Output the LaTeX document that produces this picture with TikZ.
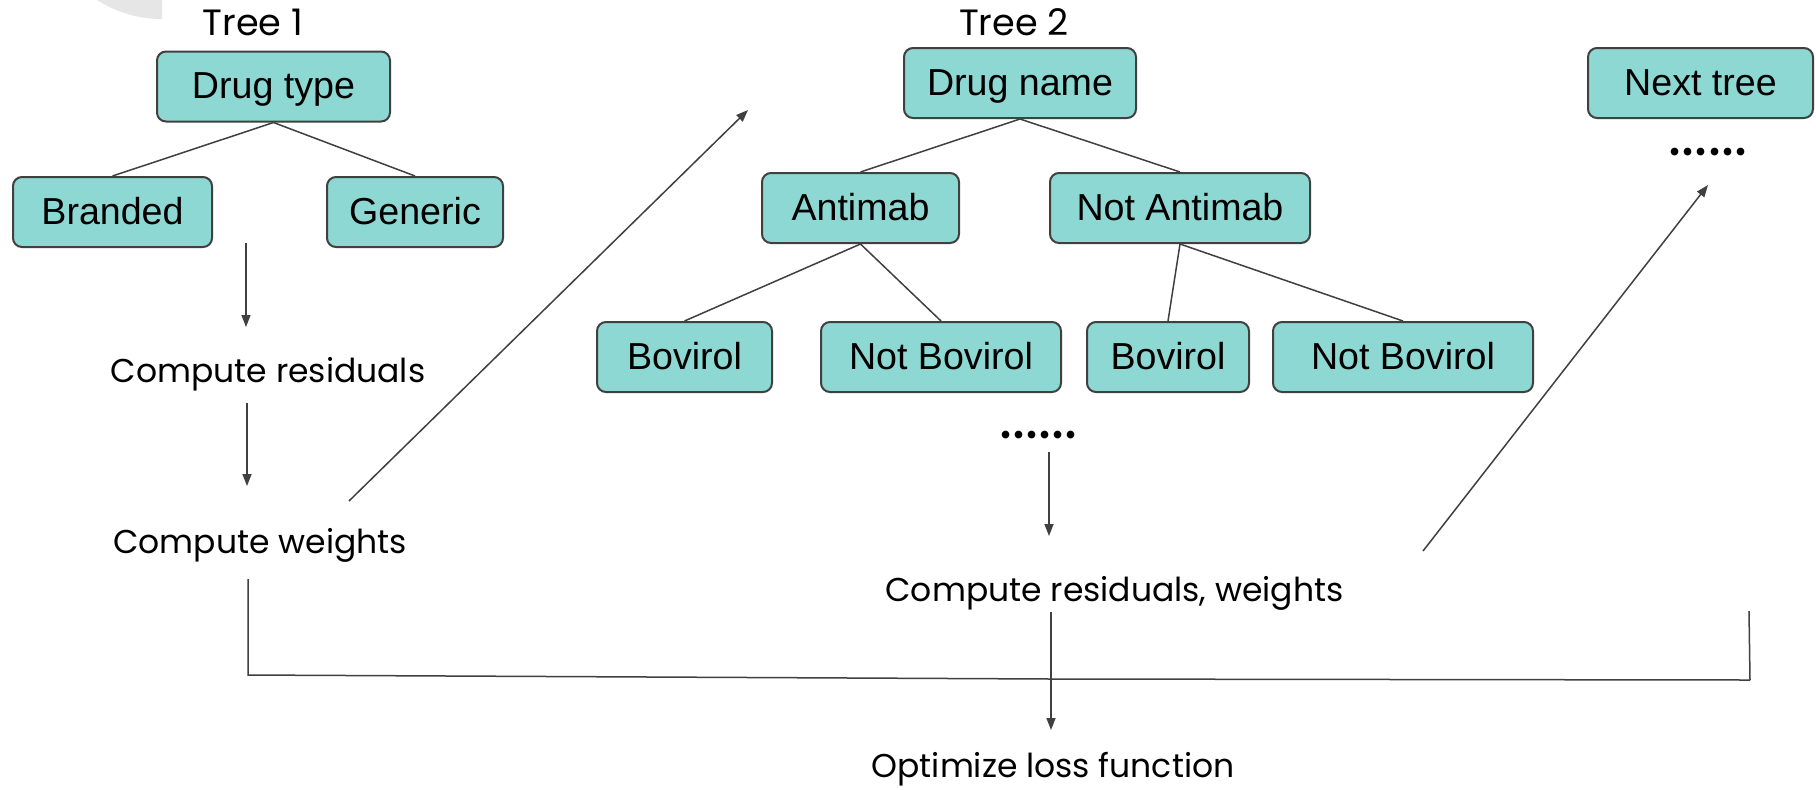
\documentclass[tikz,border=0pt]{standalone}
\usepackage{fontspec}
\newfontfamily\plainfont{Poppins}
\newfontfamily\boxfont{Liberation Sans}
\usetikzlibrary{arrows.meta}
\definecolor{tealfill}{HTML}{8DD8D2}
\definecolor{edgegray}{HTML}{404040}
\definecolor{ghost}{HTML}{E6E6E6}
\begin{document}
\begin{tikzpicture}[x=0.5pt,y=-0.5pt,
  box/.style={draw=edgegray, line width=1pt, fill=tealfill, rounded corners=4.5pt,
    minimum height=35pt, inner sep=0pt, text height=13.5pt, text depth=1.2pt,
    font=\boxfont\fontsize{18.8}{22}\selectfont},
  ln/.style={draw=edgegray, line width=0.75pt},
  arr/.style={ln, -{Triangle[length=6pt,width=4.5pt]}},
  plain/.style={font=\plainfont\fontsize{16.5}{20}\selectfont, inner sep=0pt, anchor=base},
  treelbl/.style={font=\plainfont\fontsize{18.3}{22}\selectfont, inner sep=0pt, anchor=base},
  dots/.style={font=\plainfont\fontsize{31}{34}\selectfont, inner sep=0pt, anchor=base}]
\useasboundingbox (0,0) rectangle (1816,789);
\fill[white] (0,0) rectangle (1816,789);
% faint grey disc, top left
\begin{scope}
  \clip (0,0) rectangle (162,19.5);
  \fill[ghost] (162,-101.7) circle[radius=120.7];
\end{scope}

% Tree 1
\node[treelbl] (t1) at (253,35) {Tree 1};
\node[box, minimum width=116.5pt] (dtype) at (273.5,86.5) {Drug type};
\node[box, minimum width=99.5pt] (branded) at (112.5,212) {Branded};
\node[box, minimum width=88pt] (generic) at (415,212) {Generic};
\draw[ln] (dtype.south) -- (branded.north);
\draw[ln] (dtype.south) -- (generic.north);

% Tree 2
\node[treelbl] (t2) at (1014,35) {Tree 2};
\node[box, minimum width=116pt] (dname) at (1020,83) {Drug name};
\node[box, minimum width=98.5pt] (anti) at (860.5,208) {Antimab};
\node[box, minimum width=130pt] (notanti) at (1180,208) {Not Antimab};
\node[box, minimum width=87.5pt] (bov1) at (684.5,357) {Bovirol};
\node[box, minimum width=120pt] (notbov1) at (941,357) {Not Bovirol};
\node[box, minimum width=81pt] (bov2) at (1168,357) {Bovirol};
\node[box, minimum width=130pt] (notbov2) at (1403,357) {Not Bovirol};
\draw[ln] (dname.south) -- (anti.north);
\draw[ln] (dname.south) -- (notanti.north);
\draw[ln] (anti.south) -- (bov1.north);
\draw[ln] (anti.south) -- (notbov1.north);
\draw[ln] (notanti.south) -- (bov2.north);
\draw[ln] (notanti.south) -- (notbov2.north);

% Next tree
\node[box, minimum width=112.5pt] (next) at (1700.5,83) {Next tree};
\node[dots] (dotsA) at (1708,155.5) {......};
\node[dots] (dotsB) at (1038.5,438.5) {......};

% texts
\node[plain] (cres) at (268,382) {Compute residuals};
\node[plain] (cw) at (260,553) {Compute weights};
\node[plain] (crw) at (1114.5,601) {Compute residuals, weights};
\node[plain] (opt) at (1053,777) {Optimize loss function};

% arrows
\coordinate (a1s) at (246,243); \coordinate (a1e) at (246,327);
\coordinate (a2s) at (247,403); \coordinate (a2e) at (247,486);
\coordinate (d1s) at (349,501); \coordinate (d1e) at (748,110);
\coordinate (a3s) at (1049,452); \coordinate (a3e) at (1049,536);
\coordinate (d2s) at (1423,551); \coordinate (d2e) at (1708,185);
\draw[arr] (a1s) -- (a1e);
\draw[arr] (a2s) -- (a2e);
\draw[arr] (d1s) -- (d1e);
\draw[arr] (a3s) -- (a3e);
\draw[arr] (d2s) -- (d2e);

% bracket
\coordinate (bl1) at (248,579); \coordinate (bl2) at (248,675);
\coordinate (bm) at (1051,679);
\coordinate (br2) at (1750,680); \coordinate (br1) at (1749,611);
\coordinate (m1) at (1051,612); \coordinate (m2) at (1051,730);
\draw[ln] (bl1) -- (bl2) -- (bm) -- (br2);
\draw[ln] (br1) -- (br2);
\draw[arr] (m1) -- (m2);
\end{tikzpicture}
\end{document}
